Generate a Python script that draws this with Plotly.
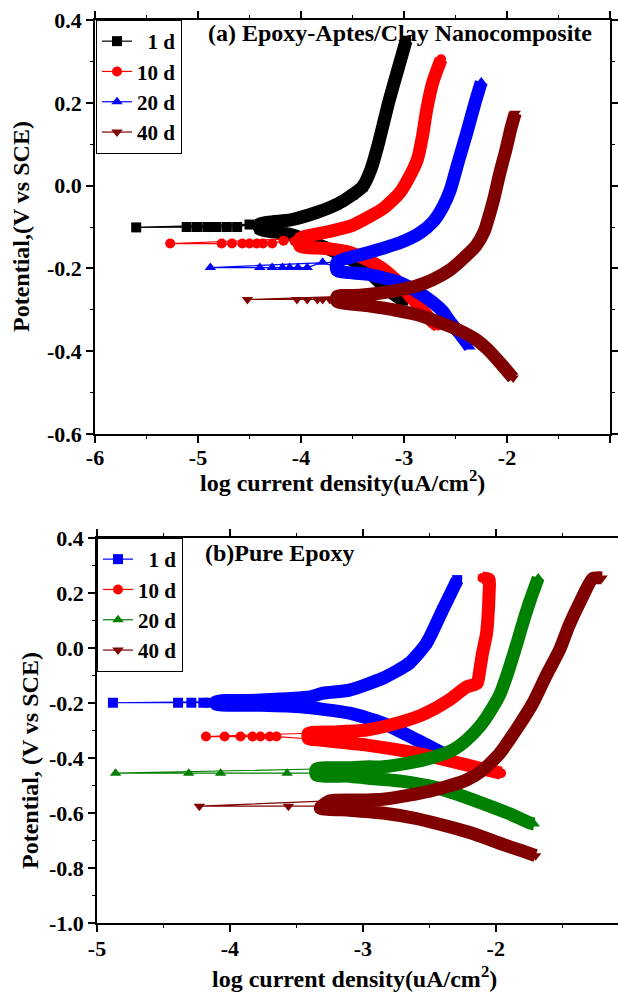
import plotly.graph_objects as go

FONT = "Liberation Serif, Times New Roman, serif"
W, H = 618, 994

# ---------------- panel (a): Epoxy-Aptes/Clay Nanocomposite ----------------
a_names = ["\u20071 d", "10 d", "20 d", "40 d"]
a_colors = ["#000000", "#FF0000", "#0000FF", "#800000"]
a_symbols = ["square", "circle", "triangle-up", "triangle-down"]

# 1 d
a1_cath_x = [-4.40, -4.10, -3.79, -3.60, -3.46, -3.30, -3.20, -3.10, -3.01]
a1_cath_y = [-0.105, -0.118, -0.147, -0.168, -0.186, -0.218, -0.243, -0.262, -0.278]
a1_sp_x = [-4.50, -4.62, -4.72, -4.82, -4.91, -5.01, -5.11, -5.60]
a1_sp_y = [-0.094, -0.100, -0.100, -0.100, -0.100, -0.100, -0.100, -0.101]
a1_an_x = [-4.40, -4.10, -3.85, -3.65, -3.50, -3.40, -3.32, -3.25, -3.15, -3.06, -2.98]
a1_an_y = [-0.093, -0.083, -0.065, -0.045, -0.022, -0.002, 0.040, 0.100, 0.200, 0.280, 0.350]
# 10 d
a2_cath_x = [-4.01, -3.75, -3.52, -3.35, -3.20, -3.05, -2.94, -2.82, -2.72, -2.67]
a2_cath_y = [-0.146, -0.152, -0.162, -0.180, -0.202, -0.235, -0.267, -0.300, -0.330, -0.338]
a2_sp_x = [-4.06, -4.17, -4.28, -4.37, -4.43, -4.50, -4.57, -4.67, -4.77, -5.27]
a2_sp_y = [-0.135, -0.133, -0.140, -0.140, -0.140, -0.140, -0.140, -0.140, -0.140, -0.140]
a2_an_x = [-4.01, -3.75, -3.52, -3.36, -3.20, -3.04, -2.94, -2.87, -2.82, -2.78, -2.72, -2.64]
a2_an_y = [-0.128, -0.112, -0.098, -0.078, -0.055, -0.017, 0.025, 0.063, 0.120, 0.183, 0.250, 0.305]
# 20 d
a3_cath_x = [-3.65, -3.36, -3.04, -2.88, -2.72, -2.62, -2.55, -2.45, -2.36]
a3_cath_y = [-0.205, -0.214, -0.234, -0.255, -0.282, -0.305, -0.330, -0.360, -0.390]
a3_sp_x = [-3.65, -3.79, -3.94, -4.03, -4.11, -4.18, -4.28, -4.40, -4.88]
a3_sp_y = [-0.198, -0.185, -0.198, -0.198, -0.198, -0.198, -0.198, -0.198, -0.198]
a3_an_x = [-3.65, -3.36, -3.04, -2.85, -2.72, -2.62, -2.55, -2.47, -2.39, -2.31, -2.25]
a3_an_y = [-0.185, -0.163, -0.138, -0.115, -0.088, -0.050, -0.010, 0.060, 0.128, 0.200, 0.250]
# 40 d
a4_cath_x = [-3.65, -3.36, -3.10, -2.87, -2.66, -2.46, -2.30, -2.19, -2.06, -1.94]
a4_cath_y = [-0.280, -0.290, -0.300, -0.312, -0.330, -0.350, -0.372, -0.395, -0.430, -0.465]
a4_sp_x = [-3.65, -3.72, -3.79, -3.84, -3.94, -4.04, -4.52]
a4_sp_y = [-0.275, -0.275, -0.275, -0.275, -0.275, -0.275, -0.275]
a4_an_x = [-3.65, -3.43, -3.24, -3.04, -2.85, -2.72, -2.55, -2.42, -2.30, -2.22, -2.17, -2.13, -2.07, -2.01, -1.96, -1.92]
a4_an_y = [-0.268, -0.265, -0.260, -0.252, -0.240, -0.227, -0.203, -0.175, -0.145, -0.110, -0.070, -0.034, 0.030, 0.087, 0.140, 0.175]

# ---------------- panel (b): Pure Epoxy ----------------
b_names = ["\u20071 d", "10 d", "20 d", "40 d"]
b_colors = ["#0000FF", "#FF0000", "#008000", "#800000"]
b_symbols = ["square", "circle", "triangle-up", "triangle-down"]

# 1 d
b1_cath_x = [-4.10, -3.80, -3.47, -3.10, -2.85, -2.59, -2.40, -2.35]
b1_cath_y = [-0.205, -0.208, -0.214, -0.237, -0.273, -0.335, -0.383, -0.400]
b1_sp_x = [-3.80, -4.10, -4.15, -4.20, -4.29, -4.39, -4.88]
b1_sp_y = [-0.190, -0.199, -0.199, -0.199, -0.199, -0.199, -0.199]
b1_an_x = [-4.10, -3.80, -3.40, -3.30, -3.10, -2.85, -2.65, -2.52, -2.40, -2.29]
b1_an_y = [-0.195, -0.190, -0.178, -0.164, -0.153, -0.110, -0.055, 0.018, 0.138, 0.247]
# 10 d
b2_cath_x = [-3.41, -3.32, -2.97, -2.59, -2.22, -2.05, -1.96]
b2_cath_y = [-0.330, -0.335, -0.353, -0.383, -0.425, -0.445, -0.455]
b2_sp_x = [-3.65, -3.70, -3.77, -3.83, -3.92, -4.04, -4.18]
b2_sp_y = [-0.322, -0.322, -0.322, -0.322, -0.322, -0.322, -0.322]
b2_an_x = [-3.41, -3.20, -2.97, -2.78, -2.59, -2.45, -2.35, -2.22, -2.14, -2.12, -2.10, -2.07, -2.06, -2.05, -2.05, -2.10]
b2_an_y = [-0.310, -0.305, -0.298, -0.278, -0.250, -0.218, -0.189, -0.142, -0.128, -0.080, -0.020, 0.050, 0.100, 0.200, 0.250, 0.255]
# 20 d
b3_cath_x = [-3.35, -3.10, -2.97, -2.70, -2.47, -2.30, -2.10, -1.90, -1.74, -1.71]
b3_cath_y = [-0.462, -0.466, -0.473, -0.485, -0.505, -0.530, -0.565, -0.602, -0.637, -0.640]
b3_sp_x = [-3.35, -3.57, -4.07, -4.31, -4.86]
b3_sp_y = [-0.455, -0.455, -0.455, -0.455, -0.455]
b3_an_x = [-3.35, -3.10, -2.95, -2.87, -2.65, -2.47, -2.32, -2.22, -2.12, -2.05, -1.97, -1.92, -1.84, -1.79, -1.74, -1.68]
b3_an_y = [-0.440, -0.435, -0.432, -0.433, -0.418, -0.397, -0.370, -0.335, -0.285, -0.237, -0.170, -0.105, 0.018, 0.100, 0.175, 0.255]
# 40 d
b4_cath_x = [-3.32, -3.10, -2.85, -2.60, -2.35, -2.15, -1.97, -1.80, -1.70]
b4_cath_y = [-0.582, -0.590, -0.600, -0.620, -0.650, -0.678, -0.710, -0.738, -0.755]
b4_sp_x = [-3.32, -3.56, -4.23]
b4_sp_y = [-0.575, -0.575, -0.575]
b4_an_x = [-3.25, -3.00, -2.85, -2.65, -2.47, -2.22, -2.10, -1.97, -1.85, -1.72, -1.62, -1.52, -1.45, -1.37, -1.27, -1.20]
b4_an_y = [-0.556, -0.553, -0.550, -0.535, -0.517, -0.480, -0.445, -0.383, -0.300, -0.200, -0.100, -0.007, 0.080, 0.163, 0.253, 0.255]

# ---------------- ticks ----------------
a_xticks = [-6, -5, -4, -3, -2, -1]
a_xtext = ["-6", "-5", "-4", "-3", "-2", "-1"]
a_yticks = [-0.6, -0.4, -0.2, 0.0, 0.2, 0.4]
a_ytext = ["-0.6", "-0.4", "-0.2", "0.0", "0.2", "0.4"]
b_xticks = [-5, -4, -3, -2]
b_xtext = ["-5", "-4", "-3", "-2"]
b_yticks = [-1.0, -0.8, -0.6, -0.4, -0.2, 0.0, 0.2, 0.4]
b_ytext = ["-1.0", "-0.8", "-0.6", "-0.4", "-0.2", "0.0", "0.2", "0.4"]

a_series = [
    (a1_cath_x, a1_cath_y, a1_sp_x, a1_sp_y, a1_an_x, a1_an_y),
    (a2_cath_x, a2_cath_y, a2_sp_x, a2_sp_y, a2_an_x, a2_an_y),
    (a3_cath_x, a3_cath_y, a3_sp_x, a3_sp_y, a3_an_x, a3_an_y),
    (a4_cath_x, a4_cath_y, a4_sp_x, a4_sp_y, a4_an_x, a4_an_y),
]
b_series = [
    (b1_cath_x, b1_cath_y, b1_sp_x, b1_sp_y, b1_an_x, b1_an_y),
    (b2_cath_x, b2_cath_y, b2_sp_x, b2_sp_y, b2_an_x, b2_an_y),
    (b3_cath_x, b3_cath_y, b3_sp_x, b3_sp_y, b3_an_x, b3_an_y),
    (b4_cath_x, b4_cath_y, b4_sp_x, b4_sp_y, b4_an_x, b4_an_y),
]

fig = go.Figure()


def add_series(data, name, color, symbol, xa, ya, legend):
    cx, cy, sx, sy, ax_, ay_ = data
    bx = cx[::-1] + ax_
    by = cy[::-1] + ay_
    fig.add_trace(go.Scatter(
        x=bx, y=by, mode="lines", xaxis=xa, yaxis=ya,
        line=dict(color=color, width=13, shape="spline", smoothing=0.6),
        showlegend=False, hoverinfo="skip", legendgroup=name + legend))
    mx = cx[::-1] + sx + ax_
    my = cy[::-1] + sy + ay_
    fig.add_trace(go.Scatter(
        x=mx, y=my, mode="lines+markers", xaxis=xa, yaxis=ya, name=name,
        line=dict(color=color, width=1.2),
        marker=dict(symbol=symbol, size=10, color=color),
        legend=legend, legendgroup=name + legend))


for d, n, c, s in zip(a_series, a_names, a_colors, a_symbols):
    add_series(d, n, c, s, "x", "y", "legend")
for d, n, c, s in zip(b_series, b_names, b_colors, b_symbols):
    add_series(d, n, c, s, "x2", "y2", "legend2")

tickfont = dict(family=FONT, size=22, color="black", weight="bold")
axis_common = dict(showgrid=False, zeroline=False, showline=True, linecolor="black",
                   linewidth=1.5, ticks="outside", ticklen=7, tickwidth=1.5,
                   tickcolor="black", tickfont=tickfont, tickmode="array",
                   automargin=False)
minor_x = dict(dtick=0.5, tick0=0, ticklen=3, ticks="outside", tickcolor="black", tickwidth=1.2)
minor_y = dict(dtick=0.1, tick0=0, ticklen=3, ticks="outside", tickcolor="black", tickwidth=1.2)
legfont = dict(family=FONT, size=21, color="black", weight="bold")

fig.update_layout(
    template="none",
    width=W, height=H, margin=dict(l=0, r=0, t=0, b=0, autoexpand=False),
    paper_bgcolor="white", plot_bgcolor="white",
    font=dict(family=FONT, color="black"),
    xaxis=dict(domain=[95 / W, 610 / W], anchor="y", range=[-6, -1],
               tickvals=a_xticks, ticktext=a_xtext, mirror="allticks",
               ticklabelstandoff=-4, minor=minor_x, **axis_common),
    yaxis=dict(domain=[1 - 434 / H, 1 - 20 / H], anchor="x", range=[-0.6, 0.4],
               tickvals=a_yticks, ticktext=a_ytext, mirror="allticks",
               minor=minor_y, **axis_common),
    xaxis2=dict(domain=[97 / W, 1.0], anchor="y2", range=[-5, -1.08],
                tickvals=b_xticks, ticktext=b_xtext, mirror="allticks",
                ticklabelstandoff=-2, minor=minor_x, **axis_common),
    yaxis2=dict(domain=[1 - 923 / H, 1 - 538 / H], anchor="x2", range=[-1.0, 0.4],
                tickvals=b_yticks, ticktext=b_ytext, mirror=False,
                minor=minor_y, **axis_common),
    legend=dict(x=96 / W, y=1 - 20 / H, xanchor="left", yanchor="top",
                bordercolor="black", borderwidth=1, bgcolor="white",
                font=legfont, tracegroupgap=0, itemsizing="trace"),
    legend2=dict(x=97 / W, y=1 - 538 / H, xanchor="left", yanchor="top",
                 bordercolor="black", borderwidth=1, bgcolor="white",
                 font=legfont, tracegroupgap=0, itemsizing="trace"),
)

tfont = dict(family=FONT, size=24, color="black", weight="bold")
ann = [
    dict(text="(a) Epoxy-Aptes/Clay Nanocomposite", x=400 / W, y=1 - 33 / H),
    dict(text="(b)Pure Epoxy", x=203 / W, y=1 - 553 / H, xanchor="left"),
    dict(text="Potential,(V vs SCE)", x=21 / W, y=1 - 227 / H, textangle=-90),
    dict(text="log current density(uA/cm<sup>2</sup>)", x=342 / W, y=1 - 481 / H),
    dict(text="Potential, (V vs SCE)", x=30 / W, y=1 - 761 / H, textangle=-90),
    dict(text="log current density(uA/cm<sup>2</sup>)", x=354 / W, y=1 - 977 / H),
    dict(text="-1", x=629 / W, y=1 - 952 / H, font=tickfont),
]
for a in ann:
    base = dict(xref="paper", yref="paper", showarrow=False, xanchor="center",
                yanchor="middle", font=tfont)
    base.update(a)
    fig.add_annotation(**base)

fig.write_html("out.html", config={"displayModeBar": False},
               post_script="document.body.style.margin='0px';")
